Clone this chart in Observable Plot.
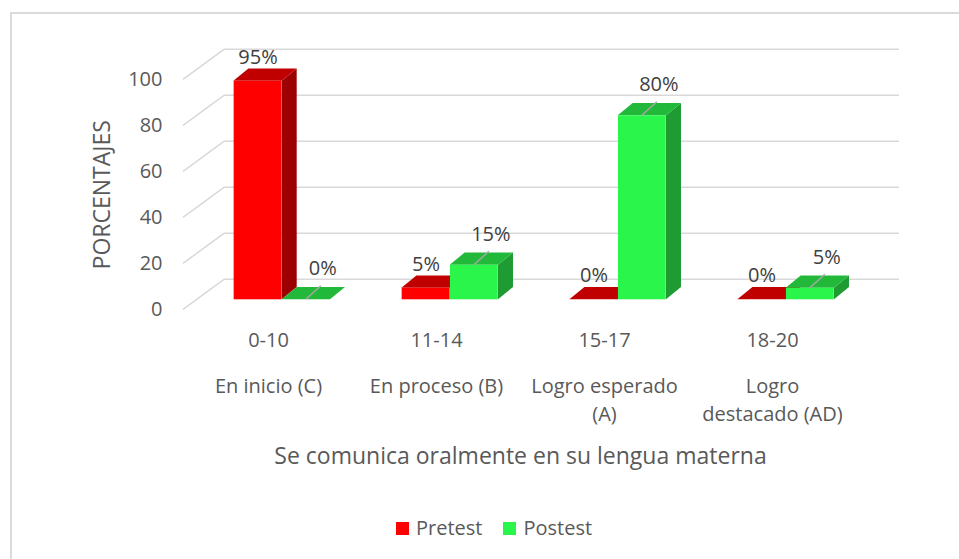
<!DOCTYPE html>
<html><head><meta charset="utf-8">
<script src="https://cdn.jsdelivr.net/npm/d3@7"></script>
<script src="https://cdn.jsdelivr.net/npm/@observablehq/plot@0.6"></script>
<style>
html,body{margin:0;padding:0;background:#fff;overflow:hidden;}
#wrap{position:relative;width:959px;height:559px;overflow:hidden;font-family:"Open Sans",sans-serif;color:#595959;}
#frame{position:absolute;left:10px;top:12px;width:1000px;height:600px;border-left:2px solid #dadada;border-top:2px solid #dadada;box-sizing:border-box;}
#chart{position:absolute;left:0;top:0;}
#legend{position:absolute;left:396px;top:515px;display:flex;align-items:center;font-size:20px;line-height:26px;white-space:nowrap;}
.item{display:flex;align-items:center;margin-right:21px;}
.sw{width:13px;height:13px;display:inline-block;margin-right:7px;}
</style></head>
<body><div id="wrap"><div id="frame"></div><div id="chart"></div><div id="legend"></div></div>
<script>
// ---- data ----
const categories = ["0-10", "11-14", "15-17", "18-20"];
const levels = ["En inicio (C)", "En proceso (B)", "Logro esperado\n(A)", "Logro\ndestacado (AD)"];
const pretest = [95, 5, 0, 0];
const postest = [0, 15, 80, 5];
const seriesNames = ["Pretest", "Postest"];
const yTicks = [0, 20, 40, 60, 80, 100];
const xTitle = "Se comunica oralmente en su lengua materna";
const yTitle = "PORCENTAJES";

// ---- styles ----
const colors = {
  Pretest: {front: "#ff0000", top: "#c00000", side: "#9c0000"},
  Postest: {front: "#2af54b", top: "#22b93a", side: "#1e9b32"}
};
const BAR_W = 48.3, PLANE_DX = 13.7, PLANE_DY = -10, TOP_DX = 15, TOP_DY = -12.3, WALL_DX = 42, WALL_DY = -30.6;

const rows = categories.flatMap((c, i) => [
  {cat: c, series: "Pretest", value: pretest[i]},
  {cat: c, series: "Postest", value: postest[i]}
]);
const pre = rows.filter(d => d.series === "Pretest");
const post = rows.filter(d => d.series === "Postest");

function bandwidthOf(x, dims) {
  return x.bandwidth ? x.bandwidth() : (dims.width - dims.marginLeft - dims.marginRight) / categories.length;
}
function barLeft(d, x, bw) {
  const c = x(d.cat) + bw / 2 + PLANE_DX;
  return d.series === "Pretest" ? c - BAR_W : c;
}

// side walls (diagonal lines)
function sideWall(index, scales, values, dims) {
  const {y} = scales;
  const g = d3.create("svg:g").attr("stroke", "#d9d9d9").attr("stroke-width", 1.5);
  for (const t of yTicks) {
    g.append("line")
      .attr("x1", dims.marginLeft).attr("y1", y(t))
      .attr("x2", dims.marginLeft + WALL_DX).attr("y2", y(t) + WALL_DY);
  }
  return g.node();
}

// 3D top and side faces of a series
function faces(data) {
  return (index, scales, values, dims) => {
    const {x, y} = scales;
    const bw = bandwidthOf(x, dims);
    const g = d3.create("svg:g");
    for (const d of data) {
      const c = colors[d.series];
      const xl = barLeft(d, x, bw), xr = xl + BAR_W;
      const yt = y(d.value) + PLANE_DY, yb = y(0) + PLANE_DY;
      g.append("path").attr("fill", c.side)
        .attr("d", `M${xr},${yt}L${xr + TOP_DX},${yt + TOP_DY}L${xr + TOP_DX},${yb + TOP_DY}L${xr},${yb}Z`);
      g.append("path").attr("fill", c.top)
        .attr("d", `M${xl},${yt}L${xr},${yt}L${xr + TOP_DX},${yt + TOP_DY}L${xl + TOP_DX},${yt + TOP_DY}Z`);
    }
    return g.node();
  };
}

// leader lines for the moved Postest labels
function leaders(index, scales, values, dims) {
  const {x, y} = scales;
  const bw = bandwidthOf(x, dims);
  const g = d3.create("svg:g").attr("stroke", "#a6a6a6").attr("stroke-width", 1.5);
  for (const d of post) {
    const x0 = barLeft(d, x, bw) + BAR_W / 2, y0 = y(d.value) + PLANE_DY;
    g.append("line").attr("x1", x0).attr("y1", y0).attr("x2", x0 + 15).attr("y2", y0 - 13.5);
  }
  return g.node();
}

const plot = Plot.plot({
  width: 959,
  height: 490,
  marginLeft: 183,
  marginRight: 102,
  marginTop: 79.3,
  marginBottom: 180.7,
  style: {fontFamily: "'Open Sans', sans-serif", fontSize: "20px", color: "#595959", background: "transparent", overflow: "visible"},
  x: {type: "band", domain: categories, padding: 0, axis: null},
  y: {domain: [0, 100], axis: null},
  marks: [
    Plot.ruleY(yTicks, {stroke: "#d9d9d9", strokeWidth: 1.5, dx: WALL_DX, dy: WALL_DY}),
    sideWall,
    faces(pre),
    Plot.barY(pre, {x: "cat", y: "value", fill: colors.Pretest.front, insetLeft: 84.25 - BAR_W, insetRight: 84.25, dx: PLANE_DX, dy: PLANE_DY}),
    faces(post),
    Plot.barY(post, {x: "cat", y: "value", fill: colors.Postest.front, insetLeft: 84.25, insetRight: 84.25 - BAR_W, dx: PLANE_DX, dy: PLANE_DY}),
    leaders,
    Plot.text(pre, {x: "cat", y: "value", text: d => d.value + "%", dx: PLANE_DX - BAR_W / 2, dy: PLANE_DY - 24, fill: "#404040"}),
    Plot.text(post, {x: "cat", y: "value", text: d => d.value + "%", dx: PLANE_DX + BAR_W / 2 + 16.5, dy: PLANE_DY - 31, fill: "#404040"}),
    Plot.axisY(yTicks, {tickSize: 0, tickPadding: 21, label: null, fill: "#595959"}),
    Plot.text(categories, {x: d => d, text: d => d, frameAnchor: "bottom", dy: 37, fill: "#595959"}),
    Plot.text(categories, {x: d => d, text: (d, i) => levels[i], frameAnchor: "bottom", lineAnchor: "top", lineHeight: 1.42, dy: 63, fill: "#595959"}),
    Plot.text([xTitle], {text: d => d, frameAnchor: "bottom", dy: 154, fontSize: 23, fill: "#595959"}),
    Plot.text([yTitle], {text: d => d, frameAnchor: "left", textAnchor: "middle", rotate: -90, dx: -80.7, fontSize: 23, fill: "#595959"})
  ]
});
document.getElementById("chart").appendChild(plot);

const legend = d3.select("#legend");
for (const s of seriesNames) {
  const it = legend.append("div").attr("class", "item");
  it.append("span").attr("class", "sw").style("background", colors[s].front);
  it.append("span").text(s);
}
</script></body></html>
